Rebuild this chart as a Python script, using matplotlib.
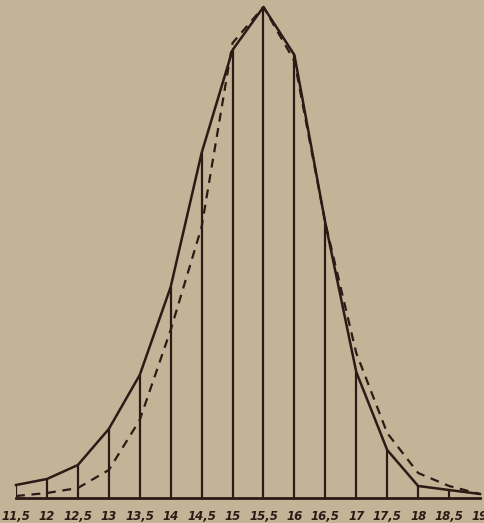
import matplotlib
matplotlib.use("Agg")
import matplotlib.pyplot as plt

# class midpoints and tick labels
x_vals = [11.5, 12, 12.5, 13, 13.5, 14, 14.5, 15, 15.5, 16, 16.5, 17, 17.5, 18, 18.5, 19]
tick_labels = ["11,5", "12", "12,5", "13", "13,5", "14", "14,5", "15",
               "15,5", "16", "16,5", "17", "17,5", "18", "18,5", "19"]

# observed frequencies (solid polygon)
observed = [13, 19, 33, 69, 123, 211, 345, 448, 491, 443, 275, 126, 48, 12, 8, 4]
# fitted curve (dashed)
fitted = [2, 5, 10, 28, 78, 168, 271, 455, 491, 437, 275, 145, 65, 25, 12, 4]

bg = "#c4b497"
ink = "#2b1a15"

fig = plt.figure(figsize=(4.85, 5.23), dpi=100, facecolor=bg)
ax = fig.add_axes([16 / 485, 25 / 523, 464 / 485, 491 / 523], facecolor=bg)

# vertical ordinates
ax.vlines(x_vals[:-1], 0, observed[:-1], color=ink, lw=1.6)
# observed polygon
ax.plot(x_vals, observed, color=ink, lw=1.8, clip_on=False)
# fitted curve
ax.plot(x_vals, fitted, color=ink, lw=1.6, ls=(0, (4, 3)), clip_on=False)
# baseline
ax.plot([x_vals[0], x_vals[-1]], [0, 0], color=ink, lw=2, clip_on=False)

ax.set_xlim(11.5, 19)
ax.set_ylim(0, 491)
for s in ax.spines.values():
    s.set_visible(False)
ax.set_yticks([])
ax.set_xticks(x_vals)
ax.set_xticklabels(tick_labels, fontstyle="italic", fontweight="semibold",
                   fontsize=8.5, color=ink)
ax.tick_params(axis="x", length=0, pad=9)

fig.savefig("out.png", dpi=100, facecolor=bg)
